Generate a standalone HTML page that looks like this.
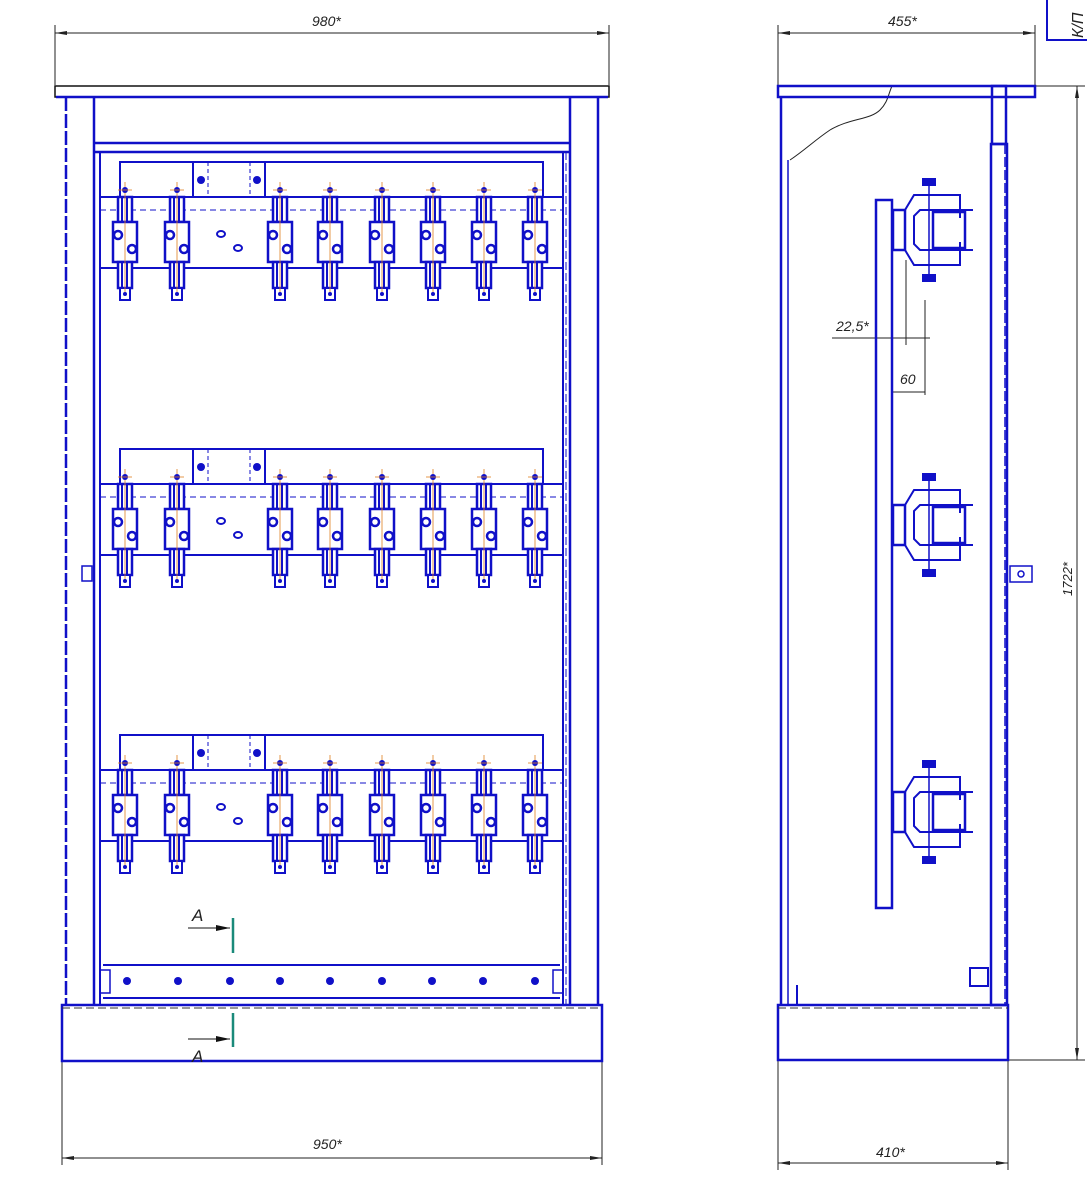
<!DOCTYPE html>
<html><head><meta charset="utf-8"><style>
html,body{margin:0;padding:0;background:#fff;}
svg{display:block;}
text{font-family:"Liberation Sans",sans-serif;font-style:italic;fill:#222;}
</style></head><body>
<svg width="1087" height="1193" viewBox="0 0 1087 1193" xmlns="http://www.w3.org/2000/svg">
<defs>
<g id="sw">
  <rect x="-7" y="35" width="14" height="25" fill="#fff" stroke="#1010c8" stroke-width="2.5"/>
  <line x1="-3" y1="36" x2="-3" y2="59" stroke="#1010c8" stroke-width="2"/>
  <line x1="2" y1="36" x2="2" y2="59" stroke="#1010c8" stroke-width="2"/>
  <rect x="-12" y="60" width="24" height="40" fill="#fff" stroke="#1010c8" stroke-width="2.5"/>
  <rect x="-7" y="100" width="14" height="26" fill="#fff" stroke="#1010c8" stroke-width="2.5"/>
  <line x1="-3" y1="101" x2="-3" y2="125" stroke="#1010c8" stroke-width="2"/>
  <line x1="2" y1="101" x2="2" y2="125" stroke="#1010c8" stroke-width="2"/>
  <rect x="-5" y="126" width="10" height="12" fill="#fff" stroke="#1010c8" stroke-width="2"/>
  <circle cx="0" cy="132" r="2" fill="#1010c8"/>
  <circle cx="-7" cy="73" r="4" fill="none" stroke="#1010c8" stroke-width="2.5"/>
  <circle cx="7" cy="87" r="4" fill="none" stroke="#1010c8" stroke-width="2.5"/>
  <line x1="0" y1="20" x2="0" y2="130" stroke="#e08020" stroke-width="0.8"/>
  <circle cx="0" cy="28" r="3" fill="#1010c8"/>
  <line x1="-7" y1="28" x2="7" y2="28" stroke="#e08020" stroke-width="0.8"/>
</g>
<g id="row">
  <rect x="120" y="0" width="423" height="35" fill="none" stroke="#1010c8" stroke-width="2"/>
  <rect x="193" y="0" width="72" height="35" fill="none" stroke="#1010c8" stroke-width="2"/>
  <line x1="208" y1="0" x2="208" y2="35" stroke="#1010c8" stroke-dasharray="4,3"/>
  <line x1="250" y1="0" x2="250" y2="35" stroke="#1010c8" stroke-dasharray="4,3"/>
  <circle cx="201" cy="18" r="4" fill="#1010c8"/><circle cx="257" cy="18" r="4" fill="#1010c8"/>
  <line x1="100" y1="35" x2="563" y2="35" stroke="#1010c8" stroke-width="2"/>
  <line x1="100" y1="48" x2="563" y2="48" stroke="#1010c8" stroke-dasharray="6,4"/>
  <line x1="100" y1="106" x2="563" y2="106" stroke="#1010c8" stroke-width="2"/>
  <ellipse cx="221" cy="72" rx="4" ry="3" fill="none" stroke="#1010c8" stroke-width="2"/>
  <ellipse cx="238" cy="86" rx="4" ry="3" fill="none" stroke="#1010c8" stroke-width="2"/>
  <use href="#sw" x="125"/><use href="#sw" x="177"/><use href="#sw" x="280"/><use href="#sw" x="330"/>
  <use href="#sw" x="382"/><use href="#sw" x="433"/><use href="#sw" x="484"/><use href="#sw" x="535"/>
</g>
<g id="ss">
  <line x1="929" y1="-50" x2="929" y2="50" stroke="#1010c8" stroke-width="1.5"/>
  <rect x="922" y="-52" width="14" height="8" fill="#1010c8"/>
  <rect x="922" y="44" width="14" height="8" fill="#1010c8"/>
  <rect x="893" y="-20" width="12" height="40" fill="none" stroke="#1010c8" stroke-width="2.5"/>
  <path d="M905,-20 L914,-35 L960,-35 L960,-12 M905,20 L914,35 L960,35 L960,12" fill="none" stroke="#1010c8" stroke-width="2"/>
  <path d="M973,-20 L920,-20 L914,-14 L914,14 L920,20 L973,20" fill="none" stroke="#1010c8" stroke-width="2"/>
  <rect x="933" y="-18" width="32" height="36" fill="none" stroke="#1010c8" stroke-width="2.5"/>
</g>
</defs>

<!-- FRONT VIEW -->
<g stroke="#222" stroke-width="1" fill="none">
  <line x1="55" y1="25" x2="55" y2="85"/><line x1="609" y1="25" x2="609" y2="85"/>
  <line x1="55" y1="33" x2="609" y2="33"/>
  <line x1="62" y1="1062" x2="62" y2="1165"/><line x1="602" y1="1062" x2="602" y2="1165"/>
  <line x1="62" y1="1158" x2="602" y2="1158"/>
</g>
<path d="M55,33 l12,-2 v4z M609,33 l-12,-2 v4z M62,1158 l12,-2 v4z M602,1158 l-12,-2 v4z" fill="#222"/>
<text x="312" y="26" font-size="14">980*</text>
<text x="313" y="1149" font-size="14">950*</text>

<g stroke="#1010c8" fill="none" stroke-width="2.5">
  <rect x="55" y="86" width="554" height="11" stroke="#111" stroke-width="1.5"/>
  <line x1="56" y1="97" x2="608" y2="97"/>
  <line x1="66" y1="97" x2="66" y2="1005" stroke-dasharray="14,3"/>
  <line x1="94" y1="97" x2="94" y2="1005"/>
  <line x1="570" y1="97" x2="570" y2="1005"/>
  <line x1="598" y1="97" x2="598" y2="1005"/>
  <line x1="94" y1="143" x2="570" y2="143"/>
  <line x1="94" y1="152" x2="570" y2="152"/>
  <line x1="100" y1="152" x2="100" y2="1005" stroke-width="2"/>
  <line x1="563" y1="152" x2="563" y2="1005" stroke-width="2"/>
  <line x1="566" y1="152" x2="566" y2="1005" stroke-width="1" stroke-dasharray="8,3"/>
  <rect x="82" y="566" width="10" height="15" stroke-width="1.5"/>
  <line x1="103" y1="965" x2="560" y2="965" stroke-width="2"/>
  <line x1="103" y1="998" x2="560" y2="998" stroke-width="2"/>
  <rect x="100" y="970" width="10" height="23" stroke-width="1.5"/>
  <rect x="553" y="970" width="10" height="23" stroke-width="1.5"/>
  <rect x="62" y="1005" width="540" height="56"/>
  <line x1="62" y1="1008" x2="602" y2="1008" stroke-width="1" stroke-dasharray="8,4" stroke="#333"/>
</g>
<g fill="#1010c8">
  <circle cx="127" cy="981" r="4"/><circle cx="178" cy="981" r="4"/><circle cx="230" cy="981" r="4"/>
  <circle cx="280" cy="981" r="4"/><circle cx="330" cy="981" r="4"/><circle cx="382" cy="981" r="4"/>
  <circle cx="432" cy="981" r="4"/><circle cx="483" cy="981" r="4"/><circle cx="535" cy="981" r="4"/>
</g>
<use href="#row" y="162"/>
<use href="#row" y="449"/>
<use href="#row" y="735"/>
<!-- section A -->
<line x1="233" y1="918" x2="233" y2="953" stroke="#1a8a7a" stroke-width="2.5"/>
<line x1="233" y1="1013" x2="233" y2="1047" stroke="#1a8a7a" stroke-width="2.5"/>
<line x1="188" y1="928" x2="230" y2="928" stroke="#111"/><path d="M230,928 l-14,-3 v6z" fill="#111"/>
<line x1="188" y1="1039" x2="230" y2="1039" stroke="#111"/><path d="M230,1039 l-14,-3 v6z" fill="#111"/>
<text x="192" y="921" font-size="17">A</text>
<text x="192" y="1062" font-size="17">A</text>

<!-- SIDE VIEW -->
<g stroke="#222" stroke-width="1" fill="none">
  <line x1="778" y1="25" x2="778" y2="85"/><line x1="1035" y1="25" x2="1035" y2="85"/>
  <line x1="778" y1="33" x2="1035" y2="33"/>
  <line x1="778" y1="1060" x2="778" y2="1170"/><line x1="1008" y1="1060" x2="1008" y2="1170"/>
  <line x1="778" y1="1163" x2="1008" y2="1163"/>
  <line x1="1035" y1="86" x2="1085" y2="86"/><line x1="1008" y1="1060" x2="1085" y2="1060"/>
  <line x1="1077" y1="86" x2="1077" y2="1060"/>
  <line x1="832" y1="338" x2="930" y2="338"/>
  <line x1="906" y1="260" x2="906" y2="345"/><line x1="925" y1="300" x2="925" y2="395"/>
  <line x1="892" y1="392" x2="925" y2="392"/>
  <path d="M790,160 C805,150 815,140 830,130 C850,118 870,120 880,110 C888,102 888,95 892,86" stroke-width="1"/>
</g>
<path d="M778,33 l12,-2 v4z M1035,33 l-12,-2 v4z M778,1163 l12,-2 v4z M1008,1163 l-12,-2 v4z M1077,86 l-2,12 h4z M1077,1060 l-2,-12 h4z" fill="#222"/>
<text x="888" y="26" font-size="14">455*</text>
<text x="876" y="1157" font-size="14">410*</text>
<text x="836" y="331" font-size="14">22,5*</text>
<text x="900" y="384" font-size="14">60</text>
<text font-size="13" transform="translate(1072,596) rotate(-90)">1722*</text>
<rect x="1047" y="-2" width="42" height="42" fill="none" stroke="#1010c8" stroke-width="2"/>
<text font-size="16" transform="translate(1083,38) rotate(-90)">К/П</text>

<g stroke="#1010c8" fill="none" stroke-width="2.5">
  <rect x="778" y="86" width="257" height="11"/>
  <line x1="781" y1="97" x2="781" y2="1005"/>
  <line x1="788" y1="160" x2="788" y2="1005" stroke-width="1.5"/>
  <rect x="992" y="86" width="14" height="58"/>
  <rect x="991" y="144" width="16" height="861"/>
  <line x1="1005" y1="144" x2="1005" y2="1005" stroke-dasharray="10,3" stroke-width="1.5"/>
  <rect x="876" y="200" width="16" height="708"/>
  <rect x="1010" y="566" width="22" height="16" stroke-width="1.5"/>
  <rect x="778" y="1005" width="230" height="55"/>
  <line x1="778" y1="1008" x2="1008" y2="1008" stroke-width="1" stroke-dasharray="8,4" stroke="#333"/>
  <rect x="970" y="968" width="18" height="18" stroke-width="2"/>
  <line x1="797" y1="985" x2="797" y2="1005" stroke-width="2"/>
</g>
<circle cx="1021" cy="574" r="3" fill="none" stroke="#1010c8" stroke-width="1.5"/>
<use href="#ss" y="230"/>
<use href="#ss" y="525"/>
<use href="#ss" y="812"/>
</svg>
</body></html>
